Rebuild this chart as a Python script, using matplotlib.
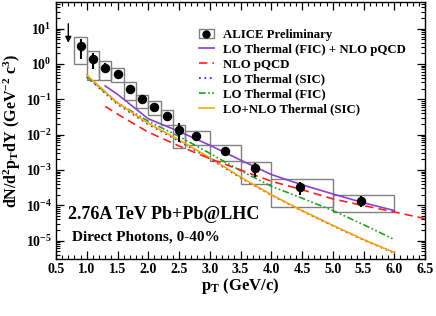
"""ALICE direct photons 0-40% Pb+Pb: data vs thermal + pQCD curves."""
import numpy as np
import matplotlib
matplotlib.use("Agg")
import matplotlib.pyplot as plt
from matplotlib.patches import Rectangle
from matplotlib.lines import Line2D
from matplotlib.ticker import LogLocator, MultipleLocator, NullFormatter

plt.rcParams["font.family"] = ["Liberation Serif", "DejaVu Serif"]
plt.rcParams["font.weight"] = "bold"
plt.rcParams["mathtext.fontset"] = "custom"
plt.rcParams["mathtext.rm"] = "Liberation Serif:bold"
plt.rcParams["mathtext.it"] = "Liberation Serif:bold"
plt.rcParams["mathtext.bf"] = "Liberation Serif:bold"

# ALICE preliminary points
pt = [0.9, 1.1, 1.3, 1.5, 1.7, 1.9, 2.1, 2.3, 2.5, 2.78, 3.24, 3.74, 4.46, 5.46]
yld = [3.3, 1.37, 0.79, 0.52, 0.20, 0.10, 0.060, 0.034, 0.0138, 0.0093,
       0.0035, 0.0011, 3.2e-4, 1.35e-4]
stat = [1.9, 0.66, 0.25, 0.08, 0.05, 0.025, 0.012, 0.008, 0.0078, 0.0015,
        0.0006, 0.00048, 1.3e-4, 4.7e-5]
# systematic boxes
sys_xlo = [0.8, 1.0, 1.2, 1.4, 1.6, 1.8, 2.0, 2.2, 2.4, 2.6, 3.0, 3.5, 4.0, 5.0]
sys_xhi = [1.0, 1.2, 1.4, 1.6, 1.8, 2.0, 2.2, 2.4, 2.6, 3.0, 3.5, 4.0, 5.0, 6.0]
sys_lo = [1.0, 0.35, 0.35, 0.30, 0.098, 0.057, 0.036, 0.019, 0.0042, 0.005,
          0.0018, 0.0004, 9.1e-5, 6.5e-5]
sys_hi = [5.9, 2.3, 1.23, 0.76, 0.30, 0.135, 0.091, 0.05, 0.019, 0.013,
          0.0051, 0.0017, 5.6e-4, 2.0e-4]

# model curves (log10 of yield)
x_fic_nlo = [1.3, 1.5, 2.0, 2.5, 3.0, 3.5, 4.0, 4.5, 5.0, 5.5, 6.0]
l_fic_nlo = [-0.62, -0.86, -1.55, -1.91, -2.30, -2.72, -3.13, -3.42, -3.68, -3.93, -4.15]
x_nlo = [1.3, 1.5, 2.0, 2.5, 3.0, 3.5, 4.0, 4.5, 5.0, 5.5, 6.0, 6.5]
l_nlo = [-1.20, -1.42, -1.93, -2.32, -2.68, -3.00, -3.32, -3.56, -3.82, -4.01, -4.19, -4.38]
x_th = [1.0, 1.5, 2.0, 2.5, 3.0, 3.5, 4.0, 4.5, 5.0, 5.5, 6.0]
l_sic = [-0.36, -1.14, -1.71, -2.18, -2.68, -3.22, -3.71, -4.16, -4.58, -4.98, -5.35]
l_fic = [-0.36, -1.10, -1.62, -2.05, -2.53, -3.02, -3.46, -3.80, -4.15, -4.55, -4.97]
l_sic_nlo = [-0.31, -1.10, -1.68, -2.15, -2.65, -3.20, -3.70, -4.15, -4.57, -4.97, -5.34]

fig = plt.figure(figsize=(4.36, 3.16), dpi=100)
ax = fig.add_axes([56/436, 57/316, 369/436, 257/316])

for a, b, lo, hi in zip(sys_xlo, sys_xhi, sys_lo, sys_hi):
    ax.add_patch(Rectangle((a, lo), b - a, hi - lo, fill=False,
                           edgecolor="#808080", lw=1.0, zorder=2))

ax.plot(x_th, 10**np.array(l_sic), color="#2030ff", lw=1.3, ls=(0, (1, 2)), zorder=3)
ax.plot(x_th, 10**np.array(l_fic), color="#20a020", lw=1.2,
        ls=(0, (4, 1.5, 1, 1.5, 1, 1.5)), zorder=3)
ax.plot(x_th, 10**np.array(l_sic_nlo), color="#ffa500", lw=1.2, zorder=3)
ax.plot(x_nlo, 10**np.array(l_nlo), color="#ff2020", lw=1.2, ls=(0, (5, 3)), zorder=3)
ax.plot(x_fic_nlo, 10**np.array(l_fic_nlo), color="#8a40d0", lw=1.2, zorder=3)

ax.errorbar(pt, yld, yerr=stat, fmt="o", color="black", ms=5.8, elinewidth=1.5,
            capsize=0, zorder=4)

ax.annotate("", xy=(0.70, 3.3), xytext=(0.70, 16.5),
            arrowprops=dict(arrowstyle="-|>", color="black", lw=1.0,
                            mutation_scale=9))

ax.set_xlim(0.5, 6.5)
ax.set_ylim(3e-6, 57)
ax.set_yscale("log")
ax.xaxis.set_minor_locator(MultipleLocator(0.1))
ax.yaxis.set_major_locator(LogLocator(base=10, numticks=20))
ax.yaxis.set_minor_locator(LogLocator(base=10, subs=np.arange(2, 10), numticks=20))
ax.yaxis.set_minor_formatter(NullFormatter())
ax.set_yticks([1e-5, 1e-4, 1e-3, 1e-2, 1e-1, 1, 10])
ax.set_xticks(np.arange(0.5, 6.51, 0.5))
ax.set_xticklabels([f"{v:.1f}" for v in np.arange(0.5, 6.51, 0.5)])
ax.tick_params(which="both", direction="in", top=True, right=True,
               labelsize=10, pad=3)
ax.tick_params(which="major", length=6, width=0.9)
ax.tick_params(which="minor", length=3, width=0.8)
for s in ax.spines.values():
    s.set_linewidth(1.0)

ax.set_xlabel(r"p$_\mathrm{T}$ (GeV/c)", fontsize=12, fontweight="bold", labelpad=0)
ax.set_ylabel(r"dN/d$^2$p$_\mathrm{T}$dY (GeV$^{-2}$ c$^3$)", fontsize=11.5,
              fontweight="bold", labelpad=2)

ax.text(0.033, 0.155, "2.76A TeV Pb+Pb@LHC", transform=ax.transAxes,
        fontsize=13, fontweight="bold", va="baseline")
ax.text(0.043, 0.072, "Direct Photons, 0-40%", transform=ax.transAxes,
        fontsize=11, fontweight="bold", va="baseline")

handles = [
    (Rectangle((0, 0), 1, 1, fill=False, edgecolor="#808080", lw=1.0),
     Line2D([], [], marker="o", color="black", ls="none", ms=5)),
    Line2D([], [], color="#8a40d0", lw=1.2),
    Line2D([], [], color="#ff2020", lw=1.2, ls=(0, (5, 3))),
    Line2D([], [], color="#2030ff", lw=1.3, ls=(0, (1, 2))),
    Line2D([], [], color="#20a020", lw=1.2, ls=(0, (4, 1.5, 1, 1.5, 1, 1.5))),
    Line2D([], [], color="#ffa500", lw=1.2),
]
labels = ["ALICE Preliminary", "LO Thermal (FIC) + NLO pQCD", "NLO pQCD",
          "LO Thermal (SIC)", "LO Thermal (FIC)", "LO+NLO Thermal (SIC)"]
fig.legend(handles, labels, loc="upper left", bbox_to_anchor=(199/436, 1 - 29/316),
           frameon=False, fontsize=9.2, borderpad=0, borderaxespad=0,
           handlelength=1.15, handletextpad=0.75, labelspacing=0.22)

fig.savefig("out.png", dpi=100)
